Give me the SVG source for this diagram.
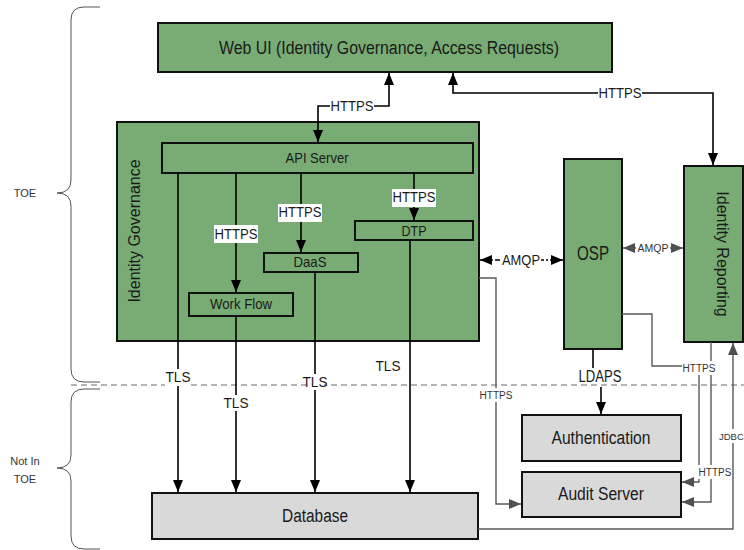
<svg xmlns="http://www.w3.org/2000/svg" width="744" height="550" viewBox="0 0 744 550">
<defs>
<style>
.g{fill:#79ab74;stroke:#111;stroke-width:2}
.x{fill:#d9d9d9;stroke:#111;stroke-width:2}
.t{font-family:"Liberation Sans",Arial,sans-serif;fill:#1a1a1a;text-anchor:middle}
.s{font-family:"Liberation Sans",Arial,sans-serif;fill:#333;text-anchor:middle;font-size:10px}
.k{fill:none;stroke:#000;stroke-width:1.6}
.gr{fill:none;stroke:#595959;stroke-width:1.4}
.bg{fill:#fff}
.br{fill:none;stroke:#555;stroke-width:1}
</style>
<marker id="ab" viewBox="0 0 12 10" refX="12" refY="5" markerWidth="12" markerHeight="10" markerUnits="userSpaceOnUse" orient="auto-start-reverse"><path d="M0,0 L12,5 L0,10 z" fill="#000"/></marker>
<marker id="ag" viewBox="0 0 12 10" refX="12" refY="5" markerWidth="12" markerHeight="10" markerUnits="userSpaceOnUse" orient="auto-start-reverse"><path d="M0,0 L12,5 L0,10 z" fill="#505050"/></marker>
</defs>
<rect width="744" height="550" fill="#fff"/>

<g id="scope">
<path class="br" d="M100,7 H84 Q71,7 71,20 V180 Q71,193 57,193 Q71,193 71,206 V369 Q71,382 84,382 H100"/>
<path class="br" d="M100,389 H84 Q71,389 71,402 V455 Q71,468 57,468 Q71,468 71,481 V536 Q71,549 84,549 H100"/>
<path d="M71,385 H744" stroke="#6a6a6a" stroke-width="1" stroke-dasharray="6,4" fill="none"/>
<text class="s" x="25" y="197" style="font-size:11px">TOE</text>
<text class="s" x="25" y="465" style="font-size:11px">Not In</text>
<text class="s" x="25" y="483" style="font-size:11px">TOE</text>
</g>

<g id="webui"><rect class="g" x="158" y="23" width="454" height="49"/><text class="t" x="389" y="54" font-size="18" textLength="340" lengthAdjust="spacingAndGlyphs">Web UI (Identity Governance, Access Requests)</text></g>
<g id="identity-governance"><rect class="g" x="117" y="122" width="362" height="219"/><text class="t" x="140" y="231" font-size="16" transform="rotate(-90 140 231)">Identity Governance</text></g>
<g id="api-server"><rect class="g" x="162" y="143" width="311" height="30"/><text class="t" x="317" y="163" font-size="15" textLength="63" lengthAdjust="spacingAndGlyphs">API Server</text></g>
<g id="workflow"><rect class="g" x="189" y="293" width="104" height="23"/><text class="t" x="241" y="309" font-size="15" textLength="62" lengthAdjust="spacingAndGlyphs">Work Flow</text></g>
<g id="daas"><rect class="g" x="264" y="253" width="94" height="19"/><text class="t" x="310" y="267" font-size="15" textLength="33" lengthAdjust="spacingAndGlyphs">DaaS</text></g>
<g id="dtp"><rect class="g" x="355" y="221" width="118" height="19"/><text class="t" x="414" y="236" font-size="15" textLength="25" lengthAdjust="spacingAndGlyphs">DTP</text></g>
<g id="osp"><rect class="g" x="564" y="159" width="58" height="190"/><text class="t" x="593" y="260" font-size="20" textLength="32" lengthAdjust="spacingAndGlyphs">OSP</text></g>
<g id="identity-reporting"><rect class="g" x="684" y="166" width="59" height="176"/><text class="t" x="717" y="254" font-size="16" transform="rotate(90 717 254)">Identity Reporting</text></g>
<g id="authentication"><rect class="x" x="522" y="415" width="159" height="46"/><text class="t" x="601" y="444" font-size="18" textLength="99" lengthAdjust="spacingAndGlyphs">Authentication</text></g>
<g id="audit-server"><rect class="x" x="522" y="472" width="159" height="45"/><text class="t" x="601" y="500" font-size="18" textLength="86" lengthAdjust="spacingAndGlyphs">Audit Server</text></g>
<g id="database"><rect class="x" x="152" y="493" width="326" height="46"/><text class="t" x="315" y="522" font-size="18" textLength="66" lengthAdjust="spacingAndGlyphs">Database</text></g>

<g id="connectors">
<path class="k" d="M389,73 V106 H318 V142" marker-start="url(#ab)" marker-end="url(#ab)"/>
<rect class="bg" x="330" y="98" width="44" height="16"/>
<text class="t" x="352" y="111" font-size="15" textLength="43" lengthAdjust="spacingAndGlyphs">HTTPS</text>

<path class="k" d="M453,73 V93 H713 V165" marker-start="url(#ab)" marker-end="url(#ab)"/>
<rect class="bg" x="598" y="85" width="44" height="16"/>
<text class="t" x="620" y="98" font-size="15" textLength="43" lengthAdjust="spacingAndGlyphs">HTTPS</text>

<path class="k" d="M236,173 V292" marker-end="url(#ab)"/>
<rect class="bg" x="214" y="225" width="44" height="18"/>
<text class="t" x="236" y="239" font-size="15" textLength="43" lengthAdjust="spacingAndGlyphs">HTTPS</text>
<path class="k" d="M301,173 V252" marker-end="url(#ab)"/>
<rect class="bg" x="278" y="204" width="44" height="18"/>
<text class="t" x="300" y="217" font-size="15" textLength="43" lengthAdjust="spacingAndGlyphs">HTTPS</text>
<path class="k" d="M414,173 V220" marker-end="url(#ab)"/>
<rect class="bg" x="392" y="189" width="44" height="18"/>
<text class="t" x="414" y="202" font-size="15" textLength="43" lengthAdjust="spacingAndGlyphs">HTTPS</text>

<path class="k" d="M178,173 V492" marker-end="url(#ab)"/>
<rect class="bg" x="165" y="369" width="26" height="17"/>
<text class="t" x="178" y="382" font-size="15" textLength="25" lengthAdjust="spacingAndGlyphs">TLS</text>
<path class="k" d="M236,316 V492" marker-end="url(#ab)"/>
<rect class="bg" x="223" y="395" width="26" height="16"/>
<text class="t" x="236" y="408" font-size="15" textLength="25" lengthAdjust="spacingAndGlyphs">TLS</text>
<path class="k" d="M315,272 V492" marker-end="url(#ab)"/>
<rect class="bg" x="306" y="374" width="18" height="16"/>
<text class="t" x="315" y="387" font-size="15" textLength="25" lengthAdjust="spacingAndGlyphs">TLS</text>
<path class="k" d="M410,240 V492" marker-end="url(#ab)"/>
<text class="t" x="388" y="371" font-size="15" textLength="25" lengthAdjust="spacingAndGlyphs">TLS</text>

<path class="k" d="M480,260 H563" stroke-dasharray="2,2,5,2" marker-start="url(#ab)" marker-end="url(#ab)"/>
<rect class="bg" x="501" y="252" width="40" height="16"/>
<text class="t" x="521" y="265" font-size="15" textLength="38" lengthAdjust="spacingAndGlyphs">AMQP</text>

<path class="gr" d="M623,248 H683" marker-start="url(#ag)" marker-end="url(#ag)"/>
<rect class="bg" x="636" y="242" width="34" height="12"/>
<text class="s" x="653" y="252" style="font-size:10.5px">AMQP</text>

<path class="k" d="M593,349 V368"/>
<text class="t" x="600" y="382" font-size="16" textLength="43" lengthAdjust="spacingAndGlyphs">LDAPS</text>
<path class="k" d="M601,387 V414" marker-end="url(#ab)"/>

<path class="gr" d="M479,278 H496 V504 H521" marker-end="url(#ag)"/>
<rect class="bg" x="479" y="388" width="34" height="14"/>
<text class="s" x="496" y="399">HTTPS</text>

<path class="gr" d="M622,314 H652 V366 H699 V482 H682" marker-end="url(#ag)"/>
<path class="gr" d="M711,342 V502 H682" marker-end="url(#ag)"/>
<rect class="bg" x="682" y="361" width="34" height="14"/>
<text class="s" x="699" y="372">HTTPS</text>
<rect class="bg" x="698" y="465" width="34" height="14"/>
<text class="s" x="715" y="476">HTTPS</text>

<path class="gr" d="M478,529 H733 V343" marker-end="url(#ag)"/>
<rect class="bg" x="718" y="429" width="26" height="14"/>
<text class="s" x="719" y="440" style="text-anchor:start;font-size:9.5px">JDBC</text>
</g>
</svg>
